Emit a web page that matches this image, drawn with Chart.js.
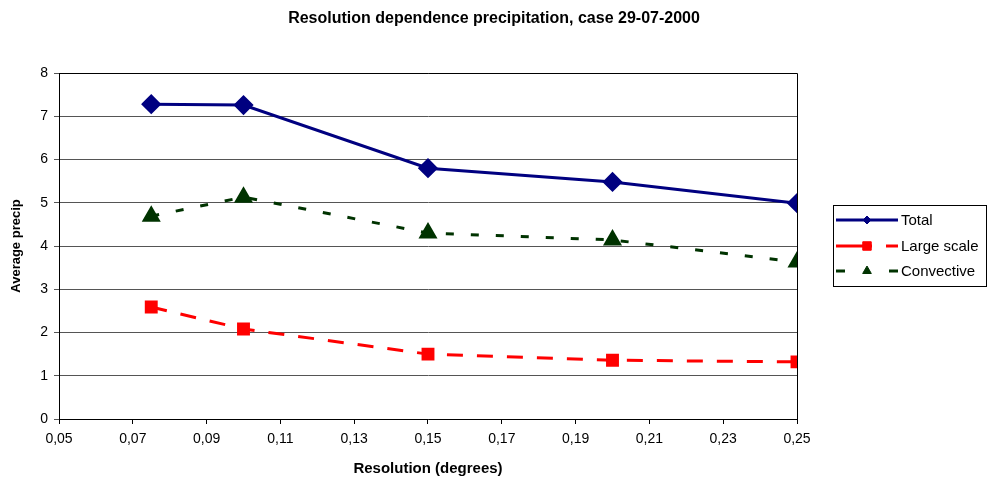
<!DOCTYPE html>
<html>
<head>
<meta charset="utf-8">
<script src="https://cdn.jsdelivr.net/npm/chart.js@4.4.0/dist/chart.umd.min.js"></script>
<style>
  html, body { margin: 0; padding: 0; background: #fff; }
  #wrap { width: 988px; height: 478px; }
</style>
</head>
<body>
<div id="wrap"><canvas id="c" width="988" height="478"></canvas></div>
<script>
// resolution (degrees)
const resolution = [0.075, 0.10, 0.15, 0.20, 0.25];
// average precip per series
const totalPrecip = [7.28, 7.26, 5.80, 5.48, 4.99];
const largeScale = [2.59, 2.08, 1.50, 1.36, 1.32];
const convective = [4.69, 5.13, 4.30, 4.14, 3.63];
const seriesNames = ["Total", "Large scale", "Convective"];
const xTicks = [0.05, 0.07, 0.09, 0.11, 0.13, 0.15, 0.17, 0.19, 0.21, 0.23, 0.25];
const chartTitle = "Resolution dependence precipitation, case 29-07-2000";

const pts = (ys) => resolution.map((x, i) => ({ x: x, y: ys[i] }));

const FONT = "'Liberation Sans', Arial, sans-serif";

// titel (ueber ganze breite zentriert), rahmen um den plotbereich + eigene legende
const frameAndLegend = {
  id: "frameAndLegend",
  afterDraw(chart) {
    const ctx = chart.ctx;
    const a = chart.chartArea;
    ctx.save();

    ctx.fillStyle = "#000";
    ctx.font = "bold 16px " + FONT;
    ctx.textAlign = "center";
    ctx.textBaseline = "middle";
    ctx.fillText(chartTitle, chart.width / 2, 19);

    ctx.strokeStyle = "#000";
    ctx.lineWidth = 1;
    ctx.beginPath();
    ctx.moveTo(a.left + 0.5, a.top + 0.5);
    ctx.lineTo(a.right + 0.5, a.top + 0.5);
    ctx.lineTo(a.right + 0.5, a.bottom + 0.5);
    ctx.stroke();

    // legend box
    ctx.strokeRect(833.5, 205.5, 153, 81);
    const rows = [220, 246, 271];
    chart.data.datasets.forEach((ds, i) => {
      const y = rows[i];
      ctx.strokeStyle = ds.borderColor;
      ctx.lineWidth = 3;
      ctx.setLineDash(ds.legendDash || []);
      ctx.beginPath();
      ctx.moveTo(836, y);
      ctx.lineTo(898, y);
      ctx.stroke();
      ctx.setLineDash([]);
      ctx.fillStyle = ds.backgroundColor;
      ctx.strokeStyle = ds.backgroundColor;
      ctx.lineWidth = 1;
      Chart.helpers.drawPoint(ctx, {
        pointStyle: ds.pointStyle, radius: ds.legendRadius, rotation: 0, borderWidth: 1
      }, 867, y);
      ctx.fillStyle = "#000";
      ctx.font = "15px " + FONT;
      ctx.textBaseline = "middle";
      ctx.textAlign = "left";
      ctx.fillText(ds.label, 901, y + 1);
    });
    ctx.restore();
  }
};

new Chart(document.getElementById("c"), {
  type: "line",
  data: {
    datasets: [
      {
        label: seriesNames[0],
        data: pts(totalPrecip),
        borderColor: "#000080",
        backgroundColor: "#000080",
        borderWidth: 3,
        pointStyle: "rectRot",
        pointRadius: 8,
        legendRadius: 4,
        tension: 0
      },
      {
        label: seriesNames[1],
        data: pts(largeScale),
        borderColor: "#ff0000",
        backgroundColor: "#ff0000",
        borderWidth: 3,
        borderDash: [16, 14],
        legendDash: [36, 14],
        pointStyle: "rect",
        pointRadius: 7,
        legendRadius: 6,
        tension: 0
      },
      {
        label: seriesNames[2],
        data: pts(convective),
        borderColor: "#003300",
        backgroundColor: "#003300",
        borderWidth: 3,
        borderDash: [8, 17],
        legendDash: [9, 44],
        pointStyle: "triangle",
        pointRadius: 8,
        legendRadius: 5,
        tension: 0
      }
    ]
  },
  options: {
    responsive: false,
    animation: false,
    layout: { padding: { left: 0, right: 191, top: 73, bottom: 0 } },
    plugins: {
      legend: { display: false },
      tooltip: { enabled: false },
      title: { display: false }
    },
    scales: {
      x: {
        type: "linear",
        min: 0.05,
        max: 0.25,
        afterFit(scale) { scale.height = 59; },
        afterBuildTicks(scale) { scale.ticks = xTicks.map(v => ({ value: v })); },
        border: { color: "#000", width: 1 },
        grid: { drawOnChartArea: false, drawTicks: true, tickLength: 5, color: "#000" },
        ticks: {
          color: "#000",
          font: { family: FONT, size: 14 },
          padding: 7,
          maxRotation: 0,
          callback: (v) => Number(v).toFixed(2).replace(".", ",")
        },
        title: {
          display: true,
          text: "Resolution (degrees)",
          color: "#000",
          font: { family: FONT, size: 15, weight: "bold" },
          padding: { top: 10, bottom: 0 }
        }
      },
      y: {
        min: 0,
        max: 8,
        afterFit(scale) { scale.width = 59; },
        border: { color: "#000", width: 1 },
        grid: { color: "#555", lineWidth: 1, tickLength: 5, drawTicks: true },
        ticks: {
          stepSize: 1,
          color: "#000",
          font: { family: FONT, size: 14 },
          padding: 6
        },
        title: {
          display: true,
          text: "Average precip",
          color: "#000",
          font: { family: FONT, size: 13, weight: "bold" },
          padding: { top: 9, bottom: 4 }
        }
      }
    }
  },
  plugins: [frameAndLegend]
});
</script>
</body>
</html>
